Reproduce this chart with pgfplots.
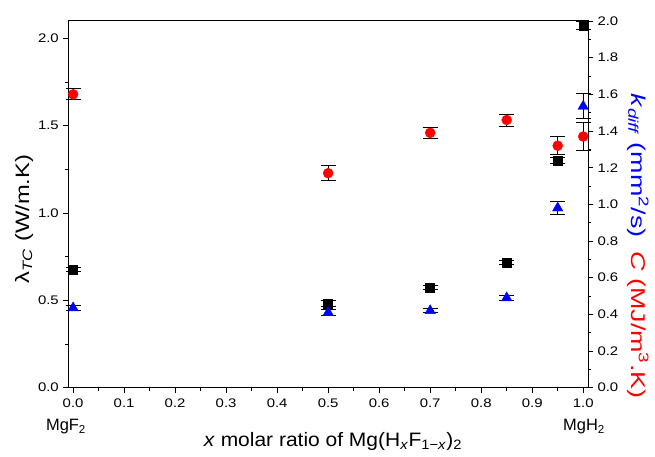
\documentclass[border=0pt]{standalone}
\usepackage{pgfplots}
\pgfplotsset{compat=1.18}
\usepackage{fontspec}
\setmainfont{Liberation Sans}
\definecolor{myred}{RGB}{255,0,0}
\definecolor{myblue}{RGB}{0,0,255}
\begin{document}
\begin{tikzpicture}
\pgfplotsset{
  every axis/.append style={
    scale only axis, width=520.3bp, height=366.7bp,
    xmin=-0.01, xmax=1.01,
    tick align=outside,
    major tick length=5bp, minor tick length=3bp,
    every tick/.style={black, line width=0.9bp},
    axis line style={line width=1bp},
    tick label style={font=\fontsize{12.5}{15}\selectfont, xscale=1.2},
    /pgf/number format/assume math mode=true,
    clip=false,
  },
  myerr/.style={error bars/.cd, y dir=both, y explicit,
    error bar style={line width=0.9bp, black},
    error mark options={rotate=90, mark size=7.5bp, line width=0.9bp, black}},
}
\begin{axis}[name=ax,
  ymin=0, ymax=2.1,
  xtick={0,0.1,0.2,0.3,0.4,0.5,0.6,0.7,0.8,0.9,1.0}, minor x tick num=1,
  xtick pos=bottom, ytick pos=left,
  ytick={0,0.5,1.0,1.5,2.0}, minor y tick num=1,
  xticklabel style={yshift=-3bp, /pgf/number format/.cd, fixed, fixed zerofill, precision=1},
  yticklabel style={/pgf/number format/.cd, fixed, fixed zerofill, precision=1},
]
\addplot[only marks, mark=square*, mark size=4.5bp, black, mark options={fill=black}, myerr]
table[x=x, y=y, y error=e] {
x y e
0.00 0.678 0.012
0.50 0.483 0.015
0.70 0.575 0.012
0.85 0.718 0.012
0.95 1.302 0.017
1.00 2.075 0.023
};
\end{axis}
\begin{axis}[
  axis y line*=right, axis x line=none,
  ymin=0, ymax=2.0,
  ytick={0,0.2,0.4,0.6,0.8,1.0,1.2,1.4,1.6,1.8,2.0}, minor y tick num=1,
  yticklabel style={/pgf/number format/.cd, fixed, fixed zerofill, precision=1},
]
\addplot[only marks, mark=*, mark size=5bp, myred, mark options={fill=myred, draw=myred}, myerr]
table[x=x, y=y, y error=e] {
x y e
0.00 1.600 0.030
0.50 1.170 0.042
0.70 1.390 0.028
0.85 1.460 0.033
0.95 1.320 0.050
1.00 1.370 0.077
};
\addplot[only marks, mark=triangle*, mark size=6bp, myblue, mark options={fill=myblue, draw=myblue}, myerr]
table[x=x, y=y, y error=e] {
x y e
0.00 0.435 0.015
0.50 0.410 0.015
0.70 0.420 0.012
0.85 0.490 0.012
0.95 0.980 0.035
1.00 1.535 0.068
};
\end{axis}
\node[rotate=90, xscale=1.22, font=\fontsize{19.5}{22}\selectfont] at ([shift={(-44bp,168.7bp)}]ax.south west)
  {λ\textsubscript{\textit{TC}} (W/m.K)};
\node[rotate=-90, xscale=1.35, font=\fontsize{20}{22}\selectfont] at ([shift={(570bp,141.7bp)}]ax.south west)
  {{\color{myblue}\textit{k}\textsubscript{\textit{diff}} (mm\textsuperscript{2}/s)}\hspace{0.5em}{\color{myred}\textit{C} (MJ/m\textsuperscript{3}.K)}};
\node[anchor=base, xscale=1.08, font=\fontsize{19.5}{22}\selectfont] at ([shift={(265bp,-59bp)}]ax.south west)
  {\textit{x} molar ratio of Mg(H\textsubscript{\textit{x}}F\textsubscript{1−\textit{x}})\textsubscript{2}};
\node[anchor=base, font=\fontsize{16.5}{19}\selectfont] at ([shift={(-2bp,-43bp)}]ax.south west)
  {MgF\textsubscript{2}};
\node[anchor=base, font=\fontsize{16.5}{19}\selectfont] at ([shift={(516bp,-43bp)}]ax.south west)
  {MgH\textsubscript{2}};
\pgfresetboundingbox
\path[use as bounding box] ([shift={(-68bp,-69.3bp)}]ax.south west) rectangle ([shift={(66.7bp,21bp)}]ax.north east);
\end{tikzpicture}
\end{document}
